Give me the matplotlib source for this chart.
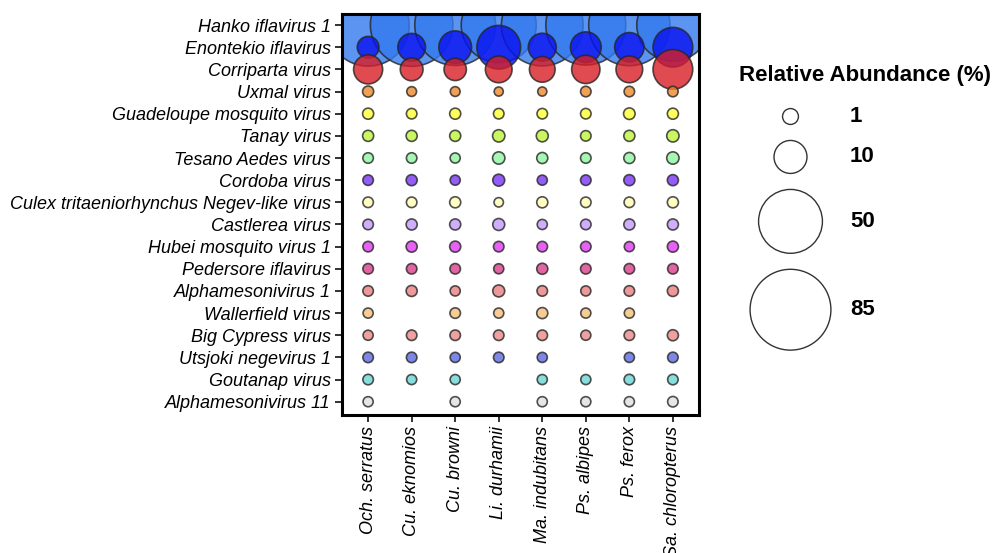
import numpy as np
import matplotlib
matplotlib.use("Agg")
import matplotlib.pyplot as plt

plt.rcParams['font.family'] = ['Liberation Sans', 'DejaVu Sans']

species = ['Och. serratus', 'Cu. eknomios', 'Cu. browni', 'Li. durhamii',
           'Ma. indubitans', 'Ps. albipes', 'Ps. ferox', 'Sa. chloropterus']

viruses = ['Hanko iflavirus 1', 'Enontekio iflavirus', 'Corriparta virus',
           'Uxmal virus', 'Guadeloupe mosquito virus', 'Tanay virus',
           'Tesano Aedes virus', 'Cordoba virus',
           'Culex tritaeniorhynchus Negev-like virus', 'Castlerea virus',
           'Hubei mosquito virus 1', 'Pedersore iflavirus', 'Alphamesonivirus 1',
           'Wallerfield virus', 'Big Cypress virus', 'Utsjoki negevirus 1',
           'Goutanap virus', 'Alphamesonivirus 11']

virus_colors = ['#337AEF', '#0A12F0', '#D81E24', '#EE8A2C', '#FFFF33',
                '#BDF53A', '#8FF5A0', '#7A35F5', '#FFFDB5', '#C49BFA',
                '#E03BF2', '#DB3E8C', '#EA8080', '#F5C07A', '#EA8A86',
                '#5C6BE0', '#6BD6D4', '#E0E0E0']

nan = np.nan
# relative abundance (%) per virus, one value per mosquito species
hanko = [88, 89, 85, 72, 87, 83, 86, 66]
enontekio = [3.0, 6.2, 9.8, 20.4, 6.4, 8.3, 7.3, 16.1]
corriparta = [7.1, 3.5, 3.3, 5.6, 5.0, 6.6, 5.6, 16.1]
uxmal = [0.15, 0.05, 0.05, 0.02, 0.02, 0.1, 0.1, 0.1]
guadeloupe = [0.15, 0.1, 0.15, 0.1, 0.1, 0.1, 0.2, 0.15]
tanay = [0.15, 0.15, 0.15, 0.3, 0.25, 0.1, 0.15, 0.3]
tesano = [0.1, 0.1, 0.07, 0.3, 0.15, 0.1, 0.15, 0.3]
cordoba = [0.1, 0.15, 0.07, 0.25, 0.07, 0.1, 0.15, 0.15]
culex_negev = [0.1, 0.1, 0.15, 0.03, 0.15, 0.1, 0.1, 0.15]
castlerea = [0.1, 0.15, 0.15, 0.25, 0.07, 0.1, 0.15, 0.15]
hubei = [0.1, 0.15, 0.15, 0.1, 0.1, 0.1, 0.07, 0.15]
pedersore = [0.1, 0.1, 0.1, 0.07, 0.15, 0.1, 0.1, 0.1]
alphameso1 = [0.1, 0.15, 0.07, 0.25, 0.1, 0.07, 0.1, 0.15]
wallerfield = [0.07, nan, 0.1, 0.07, 0.15, 0.07, 0.07, nan]
big_cypress = [0.07, 0.1, 0.1, 0.1, 0.1, 0.07, 0.1, 0.15]
utsjoki = [0.1, 0.1, 0.07, 0.1, 0.07, nan, 0.07, 0.1]
goutanap = [0.1, 0.07, 0.07, nan, 0.07, 0.07, 0.1, 0.1]
alphameso11 = [0.07, nan, 0.07, nan, 0.07, 0.07, 0.07, 0.1]

abundance = [hanko, enontekio, corriparta, uxmal, guadeloupe, tanay, tesano,
             cordoba, culex_negev, castlerea, hubei, pedersore, alphameso1,
             wallerfield, big_cypress, utsjoki, goutanap, alphameso11]

legend_values = [1, 10, 50, 85]


def diam_px(v):
    # area-style scale: diameter grows with sqrt of the value, with a floor
    return 8 + 7.9 * np.sqrt(np.asarray(v, dtype=float))


def marker_size(v, dpi=100):
    return (diam_px(v) * 72.0 / dpi) ** 2


fig = plt.figure(figsize=(10, 5.53), dpi=100)
ax = fig.add_axes([0.342, 1 - 415 / 553, 0.357, 401 / 553])

xs = np.arange(len(species))
for i, (name, vals, col) in enumerate(zip(viruses, abundance, virus_colors)):
    vals = np.asarray(vals, dtype=float)
    ok = ~np.isnan(vals)
    ax.scatter(xs[ok], np.full(ok.sum(), i), s=marker_size(vals[ok]),
               color=col, alpha=0.8, edgecolors='#262626', linewidths=1.2,
               zorder=2)

ax.set_xlim(-0.6, len(species) - 0.4)
ax.set_ylim(len(viruses) - 0.4, -0.5)
ax.set_xticks(xs)
ax.set_xticklabels(species, rotation=90, style='italic', fontsize=13)
ax.set_yticks(np.arange(len(viruses)))
ax.set_yticklabels(viruses, style='italic', fontsize=13)
ax.tick_params(axis='both', length=5, width=1.3, color='#222222', pad=3)
for sp in ax.spines.values():
    sp.set_linewidth(2.2)
    sp.set_color('black')

# size legend, laid out in image pixel coordinates
lax = fig.add_axes([0.72, 1 - 380 / 553, 0.28, 330 / 553])
lax.set_xlim(720, 1000)
lax.set_ylim(380, 50)
lax.axis('off')
lax.text(865, 76, 'Relative Abundance (%)', ha='center', va='center',
         fontsize=16, fontweight='bold')
d = diam_px(legend_values)
ys = [116.5]
for k in range(1, len(legend_values)):
    ys.append(ys[-1] + d[k - 1] / 2 + d[k] / 2 + 16)
lax.scatter(np.full(len(legend_values), 790.5), ys,
            s=marker_size(legend_values), facecolors='white',
            edgecolors='#333333', linewidths=1.0, clip_on=False)
for v, y in zip(legend_values, ys):
    lax.text(850, y, str(v), ha='left', va='center', fontsize=16,
             fontweight='bold')

fig.savefig('out.png', dpi=100)
